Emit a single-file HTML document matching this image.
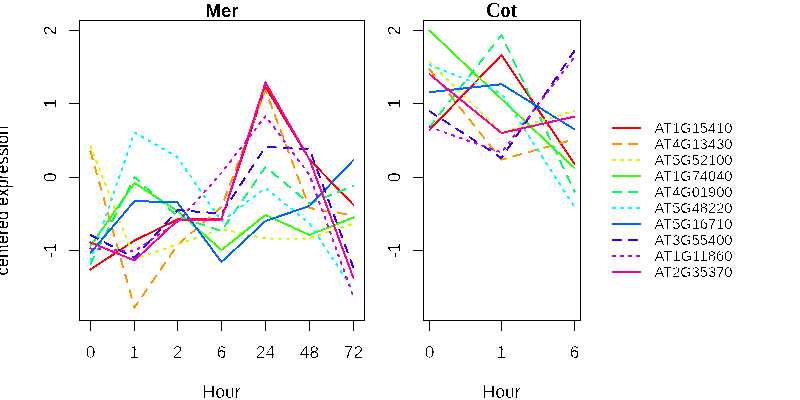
<!DOCTYPE html>
<html><head><meta charset="utf-8"><title>centered expression</title>
<style>
html,body{margin:0;padding:0;background:#fff;}
body{width:800px;height:400px;overflow:hidden;}
svg{display:block;}
text{stroke:#fff;stroke-width:0.4px;font-family:"Liberation Sans",sans-serif;fill:#000;}
.t{font-size:17.4px;}
.g{font-size:15.2px;}
.r text{stroke:none;}
.l{font-size:18.2px;}
.h{font-size:18.5px;font-weight:bold;}
.hs{font-size:20px;font-weight:bold;font-family:"Liberation Serif",serif;}
</style></head><body>
<svg width="800" height="400" viewBox="0 0 800 400">
<defs><filter id="bw" x="0" y="0" width="800" height="400" filterUnits="userSpaceOnUse" color-interpolation-filters="sRGB"><feComponentTransfer><feFuncR type="discrete" tableValues="0 0 0 0 1 1 1"/><feFuncG type="discrete" tableValues="0 0 0 0 1 1 1"/><feFuncB type="discrete" tableValues="0 0 0 0 1 1 1"/><feFuncA type="discrete" tableValues="0 1"/></feComponentTransfer></filter><filter id="bw2" x="0" y="0" width="800" height="400" filterUnits="userSpaceOnUse" color-interpolation-filters="sRGB"><feComponentTransfer><feFuncA type="discrete" tableValues="0 1"/></feComponentTransfer></filter></defs>
<rect width="800" height="400" fill="#fff"/>

<g fill="none" stroke-width="2" stroke-linecap="round" stroke-linejoin="round" shape-rendering="crispEdges">
<polyline points="90.5,269.5 134.5,240.5 177.5,219.5 221.5,219 265.5,87 309.5,159.5 353.5,205" stroke="#FF0000"/>
<polyline points="90.5,151.5 134.5,307.5 177.5,245 221.5,207 265.5,90 309.5,208 353.5,215.5" stroke="#FF9900" stroke-dasharray="8 8"/>
<polyline points="90.5,146 134.5,259 177.5,244.5 221.5,229 265.5,238.5 309.5,238.5 353.5,223.5" stroke="#CCFF00" stroke-dasharray="2 6"/>
<polyline points="90.5,246 134.5,183 177.5,211 221.5,250 265.5,215 309.5,235 353.5,217.5" stroke="#33FF00"/>
<polyline points="90.5,264 134.5,177 177.5,216.5 221.5,231 265.5,167 309.5,203.5 353.5,186" stroke="#00FF66" stroke-dasharray="8 8"/>
<polyline points="90.5,261 134.5,132.5 177.5,157 221.5,221.5 265.5,188 309.5,223.5 353.5,290.5" stroke="#00FFFF" stroke-dasharray="2 6"/>
<polyline points="90.5,253 134.5,201 177.5,202.5 221.5,262 265.5,221 309.5,206 353.5,160" stroke="#0066FF"/>
<polyline points="90.5,235 134.5,258 177.5,210.2 221.5,213.5 265.5,147 309.5,149 353.5,268" stroke="#3300FF" stroke-dasharray="8 8"/>
<polyline points="90.5,248.5 134.5,251.2 177.5,222 221.5,173 265.5,116 309.5,175 353.5,297" stroke="#CC00FF" stroke-dasharray="2 6"/>
<polyline points="90.5,242.5 134.5,260.5 177.5,220.5 221.5,219.5 265.5,82.5 309.5,159.5 353.5,278" stroke="#FF0099"/>
<polyline points="429.5,130 501.5,55 574.5,164" stroke="#FF0000"/>
<polyline points="429.5,69.3 501.5,159.7 574.5,139.3" stroke="#FF9900" stroke-dasharray="8 8"/>
<polyline points="429.5,62 501.5,132.5 574.5,110.8" stroke="#CCFF00" stroke-dasharray="2 6"/>
<polyline points="429.5,30.6 501.5,99 574.5,168" stroke="#33FF00"/>
<polyline points="429.5,127 501.5,35 574.5,191.6" stroke="#00FF66" stroke-dasharray="8 8"/>
<polyline points="429.5,65 501.5,93.5 574.5,207" stroke="#00FFFF" stroke-dasharray="2 6"/>
<polyline points="429.5,92.2 501.5,84.2 574.5,129.3" stroke="#0066FF"/>
<polyline points="429.5,111.2 501.5,158 574.5,50.8" stroke="#3300FF" stroke-dasharray="8 8"/>
<polyline points="429.5,127 501.5,152.5 574.5,57" stroke="#CC00FF" stroke-dasharray="2 6"/>
<polyline points="429.5,74.2 501.5,133 574.5,116.6" stroke="#FF0099"/>
<line x1="613" y1="128" x2="640" y2="128" stroke="#FF0000"/>
<line x1="613" y1="144" x2="640" y2="144" stroke="#FF9900" stroke-dasharray="8 8"/>
<line x1="613" y1="160" x2="640" y2="160" stroke="#CCFF00" stroke-dasharray="2 6"/>
<line x1="613" y1="176" x2="640" y2="176" stroke="#33FF00"/>
<line x1="613" y1="192" x2="640" y2="192" stroke="#00FF66" stroke-dasharray="8 8"/>
<line x1="613" y1="208" x2="640" y2="208" stroke="#00FFFF" stroke-dasharray="2 6"/>
<line x1="613" y1="224" x2="640" y2="224" stroke="#0066FF"/>
<line x1="613" y1="240" x2="640" y2="240" stroke="#3300FF" stroke-dasharray="8 8"/>
<line x1="613" y1="256" x2="640" y2="256" stroke="#CC00FF" stroke-dasharray="2 6"/>
<line x1="613" y1="272" x2="640" y2="272" stroke="#FF0099"/>
</g>
<g fill="none" stroke="#000" stroke-width="1" shape-rendering="crispEdges">
<rect x="79.5" y="20.5" width="285" height="300"/>
<rect x="423.5" y="20.5" width="157" height="300"/>
<line x1="90.5" y1="320.5" x2="90.5" y2="331"/>
<line x1="134.5" y1="320.5" x2="134.5" y2="331"/>
<line x1="177.5" y1="320.5" x2="177.5" y2="331"/>
<line x1="221.5" y1="320.5" x2="221.5" y2="331"/>
<line x1="265.5" y1="320.5" x2="265.5" y2="331"/>
<line x1="309.5" y1="320.5" x2="309.5" y2="331"/>
<line x1="353.5" y1="320.5" x2="353.5" y2="331"/>
<line x1="429.5" y1="320.5" x2="429.5" y2="331"/>
<line x1="501.5" y1="320.5" x2="501.5" y2="331"/>
<line x1="574.5" y1="320.5" x2="574.5" y2="331"/>
<line x1="69" y1="30.5" x2="79.5" y2="30.5"/>
<line x1="413" y1="30.5" x2="423.5" y2="30.5"/>
<line x1="69" y1="103.5" x2="79.5" y2="103.5"/>
<line x1="413" y1="103.5" x2="423.5" y2="103.5"/>
<line x1="69" y1="177.5" x2="79.5" y2="177.5"/>
<line x1="413" y1="177.5" x2="423.5" y2="177.5"/>
<line x1="69" y1="250.5" x2="79.5" y2="250.5"/>
<line x1="413" y1="250.5" x2="423.5" y2="250.5"/>
</g>
<g filter="url(#bw)">
<text class="t" x="90.5" y="357.5" text-anchor="middle">0</text>
<text class="t" x="134.5" y="357.5" text-anchor="middle">1</text>
<text class="t" x="177.5" y="357.5" text-anchor="middle">2</text>
<text class="t" x="221.5" y="357.5" text-anchor="middle">6</text>
<text class="t" x="265.5" y="357.5" text-anchor="middle">24</text>
<text class="t" x="309.5" y="357.5" text-anchor="middle">48</text>
<text class="t" x="353.5" y="357.5" text-anchor="middle">72</text>
<text class="t" x="429.5" y="357.5" text-anchor="middle">0</text>
<text class="t" x="501.5" y="357.5" text-anchor="middle">1</text>
<text class="t" x="574.5" y="357.5" text-anchor="middle">6</text>
<text class="l" x="202.4" y="397.6" textLength="38.3" lengthAdjust="spacingAndGlyphs">Hour</text>
<text class="l" x="482.4" y="397.6" textLength="38.3" lengthAdjust="spacingAndGlyphs">Hour</text>
<text class="g" x="654.5" y="133.4" textLength="78" lengthAdjust="spacingAndGlyphs">AT1G15410</text>
<text class="g" x="654.5" y="149.4" textLength="78" lengthAdjust="spacingAndGlyphs">AT4G13430</text>
<text class="g" x="654.5" y="165.4" textLength="78" lengthAdjust="spacingAndGlyphs">AT5G52100</text>
<text class="g" x="654.5" y="181.4" textLength="78" lengthAdjust="spacingAndGlyphs">AT1G74040</text>
<text class="g" x="654.5" y="197.4" textLength="78" lengthAdjust="spacingAndGlyphs">AT4G01900</text>
<text class="g" x="654.5" y="213.4" textLength="78" lengthAdjust="spacingAndGlyphs">AT5G48220</text>
<text class="g" x="654.5" y="229.4" textLength="78" lengthAdjust="spacingAndGlyphs">AT5G16710</text>
<text class="g" x="654.5" y="245.4" textLength="78" lengthAdjust="spacingAndGlyphs">AT3G55400</text>
<text class="g" x="654.5" y="261.4" textLength="78" lengthAdjust="spacingAndGlyphs">AT1G11860</text>
<text class="g" x="654.5" y="277.4" textLength="78" lengthAdjust="spacingAndGlyphs">AT2G35370</text>
</g>
<g filter="url(#bw2)" class="r">
<text class="h" x="222" y="16.5" text-anchor="middle">Mer</text>
<text class="hs" x="501.5" y="16.5" text-anchor="middle">Cot</text>
<text class="t" transform="translate(55.5,30.5) rotate(-90)" text-anchor="middle">2</text>
<text class="t" transform="translate(399.5,30.5) rotate(-90)" text-anchor="middle">2</text>
<text class="t" transform="translate(55.5,103.5) rotate(-90)" text-anchor="middle">1</text>
<text class="t" transform="translate(399.5,103.5) rotate(-90)" text-anchor="middle">1</text>
<text class="t" transform="translate(55.5,177.5) rotate(-90)" text-anchor="middle">0</text>
<text class="t" transform="translate(399.5,177.5) rotate(-90)" text-anchor="middle">0</text>
<text class="t" transform="translate(55.5,250.5) rotate(-90)" text-anchor="middle">-1</text>
<text class="t" transform="translate(399.5,250.5) rotate(-90)" text-anchor="middle">-1</text>
<text class="l" transform="translate(8.5,200.5) rotate(-90)" text-anchor="middle" textLength="150" lengthAdjust="spacingAndGlyphs">centered expression</text>
</g>
</svg></body></html>
